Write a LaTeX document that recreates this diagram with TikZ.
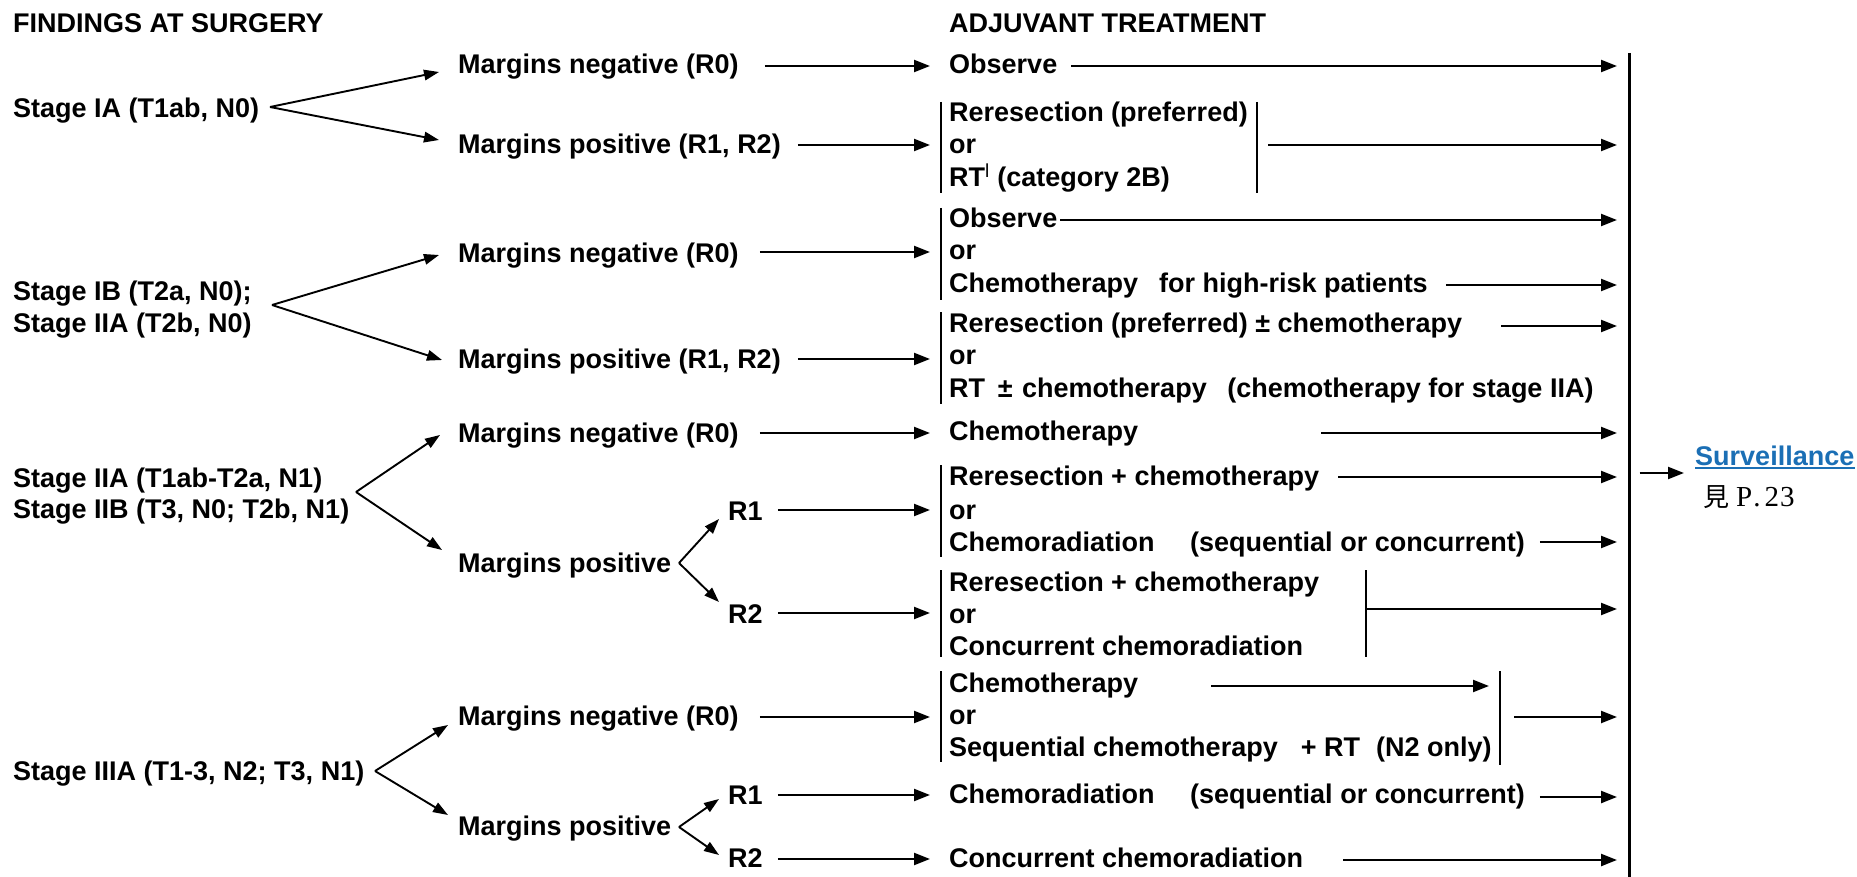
\documentclass[tikz,border=0pt]{standalone}
\usepackage{fontspec}
\setmainfont{Liberation Sans}
\newfontfamily\cjkfont{Noto Sans CJK TC}
\newfontfamily\pagefont{Liberation Serif}
\usetikzlibrary{arrows.meta,calc}
\definecolor{linkblue}{HTML}{1B6FB5}
\begin{document}
\begin{tikzpicture}[x=1pt,y=-1pt,
  txt/.style={inner sep=0pt, anchor=base west, font=\fontsize{27}{32}\selectfont\bfseries},
  arr/.style={line width=2.3pt, -{Triangle[length=16pt,width=12pt]}},
  fork/.style={line width=1.9pt, -{Triangle[length=15pt,width=10.5pt]}},
  bar/.style={line width=2.2pt}]
\fill[white] (0,0) rectangle (1857,877);
\useasboundingbox (0,0) rectangle (1857,877);

% column headings
\node[txt] (hL) at (13,33) {FINDINGS AT SURGERY};
\node[txt] (hR) at (949,33) {ADJUVANT TREATMENT};

% stages
\node[txt] (sIA)   at (13,118) {Stage IA (T1ab, N0)};
\node[txt] (sIB)   at (13,301) {Stage IB (T2a, N0);};
\node[txt] (sIIAa) at (13,332) {Stage IIA (T2b, N0)};
\node[txt] (sIIAb) at (13,487) {Stage IIA (T1ab-T2a, N1)};
\node[txt] (sIIB)  at (13,518) {Stage IIB (T3, N0; T2b, N1)};
\node[txt] (sIIIA) at (13,780) {Stage IIIA (T1-3, N2; T3, N1)};

% margins
\node[txt] (m1) at (458,74)  {Margins negative (R0)};
\node[txt] (m2) at (458,154) {Margins positive (R1, R2)};
\node[txt] (m3) at (458,262) {Margins negative (R0)};
\node[txt] (m4) at (458,368) {Margins positive (R1, R2)};
\node[txt] (m5) at (458,442) {Margins negative (R0)};
\node[txt] (m6) at (458,572) {Margins positive};
\node[txt] (r1a) at (728,520) {R1};
\node[txt] (r2a) at (728,623) {R2};
\node[txt] (m7) at (458,725) {Margins negative (R0)};
\node[txt] (m8) at (458,835) {Margins positive};
\node[txt] (r1b) at (728,804) {R1};
\node[txt] (r2b) at (728,867) {R2};

% adjuvant treatment
\node[txt] (t1)  at (949,74)  {Observe};
\node[txt] (t2a) at (949,122) {Reresection (preferred)};
\node[txt] (t2b) at (949,154) {or};
\node[txt] (t2c) at (949,187) {RT\textsuperscript{\mdseries l} (category 2B)};
\node[txt] (t3a) at (949,228) {Observe};
\node[txt] (t3b) at (949,260) {or};
\node[txt] (t3c) at (949,292) {Chemotherapy\hspace{21pt}for high-risk patients};
\node[txt] (t4a) at (949,332) {Reresection (preferred) ± chemotherapy};
\node[txt] (t4b) at (949,364) {or};
\node[txt] (t4c) at (949,397) {RT\hspace{12.7pt}±\hspace{9.5pt}chemotherapy\hspace{20.7pt}(chemotherapy for stage IIA)};
\node[txt] (t5)  at (949,440) {Chemotherapy};
\node[txt] (t6a) at (949,485) {Reresection + chemotherapy};
\node[txt] (t6b) at (949,519) {or};
\node[txt] (t6c) at (949,551) {Chemoradiation\hspace{35.5pt}(sequential or concurrent)};
\node[txt] (t7a) at (949,591) {Reresection + chemotherapy};
\node[txt] (t7b) at (949,623) {or};
\node[txt] (t7c) at (949,655) {Concurrent chemoradiation};
\node[txt] (t8a) at (949,692) {Chemotherapy};
\node[txt] (t8b) at (949,724) {or};
\node[txt] (t8c) at (949,756) {Sequential chemotherapy\hspace{23pt}+ RT\hspace{16pt}(N2 only)};
\node[txt] (t9)  at (949,803) {Chemoradiation\hspace{35.5pt}(sequential or concurrent)};
\node[txt] (t10) at (949,867) {Concurrent chemoradiation};

% surveillance
\node[txt, text=linkblue] (surv) at (1695,465) {Surveillance};
\draw[linkblue, line width=1.4pt] ($(surv.base west)+(0,3)$) -- ($(surv.base east)+(0,3)$);
\node[inner sep=0pt, anchor=base west] (page) at (1703,506)
  {{\cjkfont\fontsize{26}{30}\selectfont 見}\hspace{7pt}{\pagefont\fontsize{29}{32}\selectfont P\hspace{1pt}.\hspace{4pt}2\hspace{1pt}3}};

% brackets round alternative treatments
\draw[bar] (941,102) -- (941,193);
\draw[bar] (1257,102) -- (1257,193);
\draw[bar] (941,208) -- (941,300);
\draw[bar] (941,312) -- (941,404);
\draw[bar] (941,465) -- (941,557);
\draw[bar] (941,570) -- (941,657);
\draw[bar] (1366,570) -- (1366,657);
\draw[bar] (941,671) -- (941,762);
\draw[bar] (1500,671) -- (1500,765);
% collecting line
\draw[line width=2.5pt] (1629.5,53) -- (1629.5,877);

\coordinate (endx) at (1617,0);
\coordinate (b2) at (1257,145);
\coordinate (b7) at (1366,609);
\coordinate (b8) at (1500,717);
\coordinate (vl) at (1629.5,473);

% forks
\coordinate (fIA)   at (270,107);
\coordinate (fIB)   at (272,305);
\coordinate (fIIA)  at (356,492);
\coordinate (fIIIA) at (375,771);
\coordinate (fP1)   at (679,563);
\coordinate (fP2)   at (679,827);
\draw[fork] (fIA) -- ($(m1.base west)+(-19,-2)$);
\draw[fork] (fIA) -- ($(m2.base west)+(-19,-14)$);
\draw[fork] (fIB) -- ($(m3.base west)+(-19,-7)$);
\draw[fork] (fIB) -- ($(m4.base west)+(-16,-8)$);
\draw[fork] (fIIA) -- ($(m5.base west)+(-18,-7)$);
\draw[fork] (fIIA) -- ($(m6.base west)+(-16,-22)$);
\draw[fork] (fP1) -- ($(r1a.base west)+(-9,-1)$);
\draw[fork] (fP1) -- ($(r2a.base west)+(-9,-21)$);
\draw[fork] (fIIIA) -- ($(m7.base west)+(-10,0)$);
\draw[fork] (fIIIA) -- ($(m8.base west)+(-10,-20)$);
\draw[fork] (fP2) -- ($(r1b.base west)+(-9,-5)$);
\draw[fork] (fP2) -- ($(r2b.base west)+(-9,-12)$);

% findings to treatment
\draw[arr] ($(m1.base east)+(26,-8)$) -- ($(m1.base east -| t1.base west)+(-19,-8)$);
\draw[arr] ($(m2.base east)+(17,-9)$) -- ($(m2.base east -| t2b.base west)+(-19,-9)$);
\draw[arr] ($(m3.base east)+(21,-10)$) -- ($(m3.base east -| t3b.base west)+(-19,-10)$);
\draw[arr] ($(m4.base east)+(17,-9)$) -- ($(m4.base east -| t4b.base west)+(-19,-9)$);
\draw[arr] ($(m5.base east)+(21,-9)$) -- ($(m5.base east -| t5.base west)+(-19,-9)$);
\draw[arr] ($(r1a.base east)+(15,-10)$) -- ($(r1a.base east -| t6b.base west)+(-19,-10)$);
\draw[arr] ($(r2a.base east)+(15,-10)$) -- ($(r2a.base east -| t7b.base west)+(-19,-10)$);
\draw[arr] ($(m7.base east)+(21,-8)$) -- ($(m7.base east -| t8b.base west)+(-19,-8)$);
\draw[arr] ($(r1b.base east)+(15,-9)$) -- ($(r1b.base east -| t9.base west)+(-19,-9)$);
\draw[arr] ($(r2b.base east)+(15,-8)$) -- ($(r2b.base east -| t10.base west)+(-19,-8)$);

% treatment to collecting line
\draw[arr] ($(t1.base east)+(14,-8)$) -- ($(t1.base east -| endx)+(0,-8)$);
\draw[arr] ($(b2)+(11,0)$) -- (b2 -| endx);
\draw[arr] ($(t3a.base east)+(3,-8)$) -- ($(t3a.base east -| endx)+(0,-8)$);
\draw[arr] ($(t3c.base east)+(18,-7)$) -- ($(t3c.base east -| endx)+(0,-7)$);
\draw[arr] ($(t4a.base east)+(39,-6)$) -- ($(t4a.base east -| endx)+(0,-6)$);
\draw[arr] ($(t5.base east)+(183,-7)$) -- ($(t5.base east -| endx)+(0,-7)$);
\draw[arr] ($(t6a.base east)+(19,-8)$) -- ($(t6a.base east -| endx)+(0,-8)$);
\draw[arr] ($(t6c.base east)+(15,-9)$) -- ($(t6c.base east -| endx)+(0,-9)$);
\draw[arr] (b7) -- (b7 -| endx);
\draw[arr] ($(t8a.base east)+(73,-6)$) -- ($(t8a.base east -| b8)+(-11,-6)$);
\draw[arr] ($(b8)+(14,0)$) -- (b8 -| endx);
\draw[arr] ($(t9.base east)+(15,-6)$) -- ($(t9.base east -| endx)+(0,-6)$);
\draw[arr] ($(t10.base east)+(40,-7)$) -- ($(t10.base east -| endx)+(0,-7)$);

% on to surveillance
\draw[arr] ($(vl)+(10,0)$) -- ($(surv.base west)+(-11,8)$);
\end{tikzpicture}
\end{document}
